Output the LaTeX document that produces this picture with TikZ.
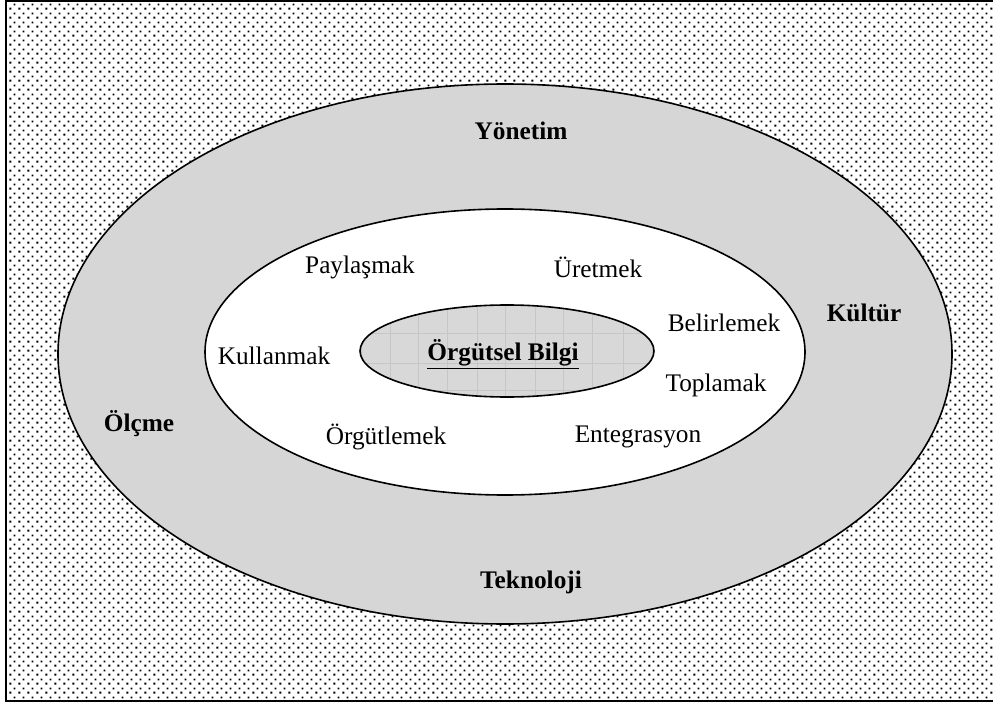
\documentclass[tikz,border=0pt]{standalone}
\usepackage{fontspec}
\setmainfont{Liberation Serif}
\usetikzlibrary{patterns}

% speckled background: staggered small black squares
\pgfdeclarepatternformonly{speckle}{\pgfpointorigin}{\pgfpoint{9pt}{9pt}}{\pgfpoint{9pt}{9pt}}{%
  \pgfpathrectangle{\pgfpoint{0.5pt}{0.5pt}}{\pgfpoint{2.2pt}{2.2pt}}%
  \pgfpathrectangle{\pgfpoint{5pt}{5pt}}{\pgfpoint{2.2pt}{2.2pt}}%
  \pgfusepath{fill}}

\definecolor{ringgray}{RGB}{214,214,214}
\definecolor{coregray}{RGB}{216,216,216}
\definecolor{gridgray}{RGB}{198,198,198}

\tikzset{
  lbl/.style={font=\fontsize{25.3}{29}\selectfont, inner sep=0pt},
  blbl/.style={lbl, font=\fontsize{25.3}{29}\selectfont\bfseries},
  rim/.style={draw=black, line width=1.6pt},
}

\begin{document}
\begin{tikzpicture}[x=1pt, y=-1pt]
  \useasboundingbox (0,0) rectangle (993,703);
  \clip (0,0) rectangle (993,703);

  % frame with speckled fill
  \fill[white] (6,1) rectangle (1000,701);
  \fill[pattern=speckle] (6,1) rectangle (1000,701);
  \draw[line width=2pt] (1000,1) -- (6,1) -- (6,701) -- (1000,701);

  % outer ring
  \draw[rim, fill=ringgray] (505,354) ellipse [x radius=447pt, y radius=270pt];

  % middle process ellipse
  \draw[rim, fill=white] (505,352) ellipse [x radius=300pt, y radius=143pt];

  % core ellipse with faint grid texture
  \fill[coregray] (507,351) ellipse [x radius=147pt, y radius=46pt];
  \begin{scope}
    \clip (507,351) ellipse [x radius=147pt, y radius=46pt];
    \foreach \gx in {361,390,418,447,477,505,535,563,592,623,652}
      \draw[gridgray, line width=0.8pt] (\gx,300) -- (\gx,400);
    \foreach \gy in {305,333,363,390}
      \draw[gridgray, line width=0.8pt] (355,\gy) -- (660,\gy);
  \end{scope}
  \draw[rim] (507,351) ellipse [x radius=147pt, y radius=46pt];

  % outer ring labels
  \node[blbl] (yonetim)   at (521,131) {Yönetim};
  \node[blbl] (kultur)    at (864,313) {Kültür};
  \node[blbl] (olcme)     at (139,424) {Ölçme};
  \node[blbl] (teknoloji) at (531,582) {Teknoloji};

  % process labels
  \node[lbl] (paylasmak)   at (360,267) {Paylaşmak};
  \node[lbl] (uretmek)     at (598,267) {Üretmek};
  \node[lbl] (belirlemek)  at (724,323) {Belirlemek};
  \node[lbl] (kullanmak)   at (274,356) {Kullanmak};
  \node[lbl] (toplamak)    at (716,385) {Toplamak};
  \node[lbl] (orgutlemek)  at (386,437) {Örgütlemek};
  \node[lbl] (entegrasyon) at (638,437) {Entegrasyon};

  % core label
  \node[blbl] (bilgi) at (503,354) {\underline{Örgütsel Bilgi}};
\end{tikzpicture}
\end{document}
